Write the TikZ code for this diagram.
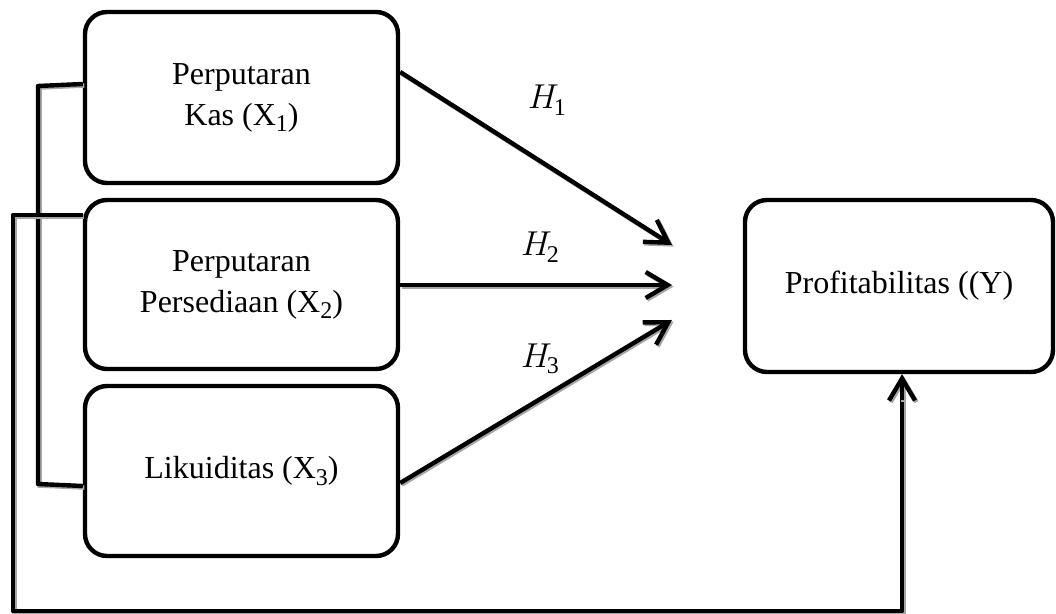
\documentclass[tikz,border=0pt]{standalone}
\usepackage{fontspec}
\setmainfont{Liberation Serif}
\usetikzlibrary{arrows.meta}
\newcommand\mysub[1]{\raisebox{-3.2pt}{\fontsize{12}{12}\selectfont #1}}
\tikzset{
  box/.style={draw, line width=2.2pt, rounded corners=11pt, align=center,
    font=\fontsize{16}{20.5}\selectfont, inner sep=0pt},
  conn/.style={line width=2.2pt, line join=round,
    preaction={draw=black!35, line width=2.2pt, transform canvas={shift={(0.8pt,-0.8pt)}}}},
  tipped/.style={conn, -{Straight Barb[length=11pt,width=13pt,line width=2.2pt]}},
  hlab/.style={font=\fontsize{17}{19}\selectfont}
}
\begin{document}
\begin{tikzpicture}[x=0.5pt,y=-0.5pt]
\useasboundingbox (0,0) rectangle (1056,614);
\node[box, minimum width=156.5pt, minimum height=85.5pt] (b1) at (241.5,97.5) {Perputaran\\Kas (X\mysub{1})};
\node[box, minimum width=156.5pt, minimum height=84.5pt] (b2) at (241.5,284.5) {Perputaran\\Persediaan (X\mysub{2})};
\node[box, minimum width=156.5pt, minimum height=85pt] (b3) at (241.5,471) {Likuiditas (X\mysub{3})};
\node[box, minimum width=154pt, minimum height=86pt] (by) at (899,286) {Profitabilitas ((Y)};
\coordinate (t1) at (672,245);
\coordinate (t2) at (672,285);
\coordinate (t3) at (672,320);
\draw[tipped] (b1.east |- 0,72) -- (t1);
\draw[tipped] (b2.east |- 0,285) -- (t2);
\draw[tipped] (b3.east |- 0,483) -- (t3);
\node[hlab] (h1) at (547,100) {$H$\kern-2.5pt\mysub{1}};
\node[hlab] (h2) at (540,247) {$H$\kern-2.5pt\mysub{2}};
\node[hlab] (h3) at (540,359) {$H$\kern-2.5pt\mysub{3}};
\draw[conn] (b1.west |- 0,84) -- (38,86) -- (38,484) -- (b3.west |- 0,486);
\draw[conn] (b2.west |- 0,215) -- (13,215) -- (13,611) -- (902,611) -- (902,385);
\draw[tipped] (902,400) -- (by.south -| 902,0);
\end{tikzpicture}
\end{document}
